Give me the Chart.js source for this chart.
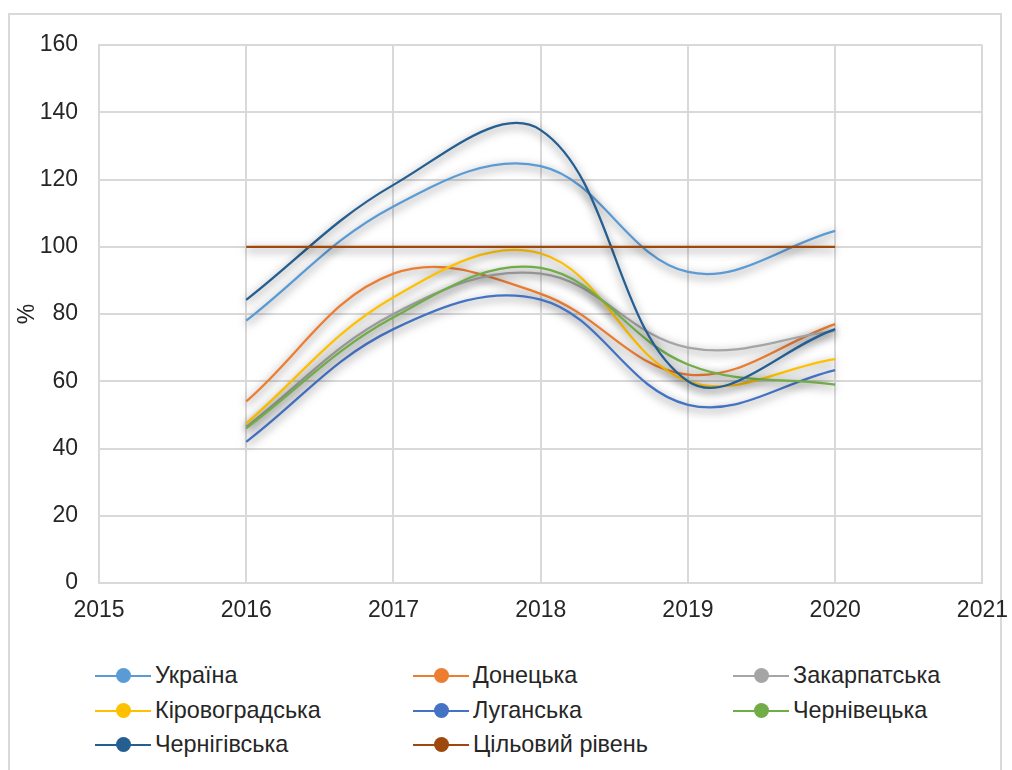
<!DOCTYPE html>
<html>
<head>
<meta charset="utf-8">
<script src="https://cdn.jsdelivr.net/npm/chart.js@4/dist/chart.umd.min.js"></script>
<style>
  html, body { margin: 0; padding: 0; background: #fff; }
  body { width: 1012px; height: 770px; position: relative; overflow: hidden; font-family: "Liberation Sans", Arial, sans-serif; }
  .frame { position: absolute; left: 8px; top: 13px; width: 994px; height: 780px; border: 2px solid #d9d9d9; box-sizing: border-box; }
  #wrap { position: absolute; left: 0; top: 0; width: 1022px; height: 640px; }
  .legend { position: absolute; left: 0; top: 0; }
  .item { position: absolute; display: flex; align-items: center; font-size: 23.4px; color: #262626; white-space: nowrap; }
  .mark { position: relative; width: 56px; height: 16px; margin-right: 4px; }
  .mark .ln { position: absolute; left: 0; right: 0; top: 7px; height: 2px; }
  .mark .dot { position: absolute; left: 21px; top: 0; width: 15px; height: 15px; border-radius: 50%; }
</style>
</head>
<body>
<div class="frame"></div>
<div id="wrap"><canvas id="chart" width="1022" height="640"></canvas></div>
<div class="legend" id="legend"></div>
<script>
const years = [2016, 2017, 2018, 2019, 2020];

const ukraine = [78, 112, 124, 92.5, 104.7];
const donetska = [54, 92, 86, 62, 77];
const zakarpatska = [46.5, 80, 92, 70, 75];
const kirovohradska = [47.5, 85, 98, 60, 66.6];
const luhanska = [42, 75.5, 84.3, 53, 63.3];
const chernivetska = [46, 79, 93.7, 65, 59];
const chernihivska = [84.2, 118.4, 134.7, 60, 75.5];
const target = [100, 100, 100, 100, 100];

const seriesNames = ['Україна', 'Донецька', 'Закарпатська', 'Кіровоградська', 'Луганська', 'Чернівецька', 'Чернігівська', 'Цільовий рівень'];
const seriesValues = [ukraine, donetska, zakarpatska, kirovohradska, luhanska, chernivetska, chernihivska, target];
const lineColors = ['#5B9BD5', '#ED7D31', '#A5A5A5', '#FFC000', '#4472C4', '#70AD47', '#255E91', '#9E480E'];
const dotColors = ['#5B9BD5', '#ED7D31', '#A5A5A5', '#FFC000', '#4472C4', '#70AD47', '#255E91', '#9E480E'];

const xTicks = [2015, 2016, 2017, 2018, 2019, 2020, 2021];
const yTicks = [0, 20, 40, 60, 80, 100, 120, 140, 160];

const toPoints = vals => vals.map((v, i) => ({ x: years[i], y: v }));

// soft gray shadow under each line, like the Excel glow
const shadowPlugin = {
  id: 'lineShadow',
  beforeDatasetDraw(chart) {
    const ctx = chart.ctx;
    ctx.save();
    ctx.shadowColor = 'rgba(0,0,0,0.6)';
    ctx.shadowBlur = 10;
    ctx.shadowOffsetX = 0;
    ctx.shadowOffsetY = 3;
  },
  afterDatasetDraw(chart) {
    chart.ctx.restore();
  }
};

const datasets = seriesNames.map((name, i) => ({
  label: name,
  data: toPoints(seriesValues[i]),
  borderColor: lineColors[i],
  backgroundColor: dotColors[i],
  borderWidth: 2.25,
  pointRadius: 0,
  tension: 0.38,
  fill: false,
  order: seriesNames.length - i
}));

const tickFont = { family: '"Liberation Sans", Arial, sans-serif', size: 23 };

new Chart(document.getElementById('chart'), {
  type: 'scatter',
  data: { datasets },
  plugins: [shadowPlugin],
  options: {
    responsive: false,
    animation: false,
    showLine: true,
    layout: { padding: { left: 0, right: 21, top: 45, bottom: 0 } },
    plugins: { legend: { display: false }, tooltip: { enabled: false } },
    scales: {
      x: {
        type: 'linear',
        min: 2015,
        max: 2021,
        afterBuildTicks: s => { s.ticks = xTicks.map(v => ({ value: v })); },
        afterFit: s => { s.height = 57; },
        ticks: { color: '#262626', font: tickFont, padding: 14, callback: v => String(v) },
        grid: { color: '#d9d9d9', lineWidth: 2, drawTicks: false },
        border: { color: '#d9d9d9', width: 2 }
      },
      y: {
        min: 0,
        max: 160,
        afterBuildTicks: s => { s.ticks = yTicks.map(v => ({ value: v })); },
        afterFit: s => { s.width = 99; },
        ticks: { color: '#262626', font: tickFont, padding: 21 },
        grid: { color: '#d9d9d9', lineWidth: 2, drawTicks: false },
        border: { color: '#d9d9d9', width: 2 },
        title: { display: true, text: '%', color: '#262626', font: tickFont, padding: { top: 14, bottom: 0 } }
      }
    }
  }
});

// legend in three columns, Excel style (line with a dot)
const legendCols = [95, 413, 733];
const legendRows = [676, 711, 745];
const legend = document.getElementById('legend');
seriesNames.forEach((name, i) => {
  const item = document.createElement('div');
  item.className = 'item';
  item.style.left = legendCols[i % 3] + 'px';
  item.style.top = (legendRows[Math.floor(i / 3)] - 14) + 'px';
  item.innerHTML = '<span class="mark"><span class="ln" style="background:' + lineColors[i] + '"></span>' +
    '<span class="dot" style="background:' + dotColors[i] + '"></span></span><span>' + name + '</span>';
  legend.appendChild(item);
});
</script>
</body>
</html>
